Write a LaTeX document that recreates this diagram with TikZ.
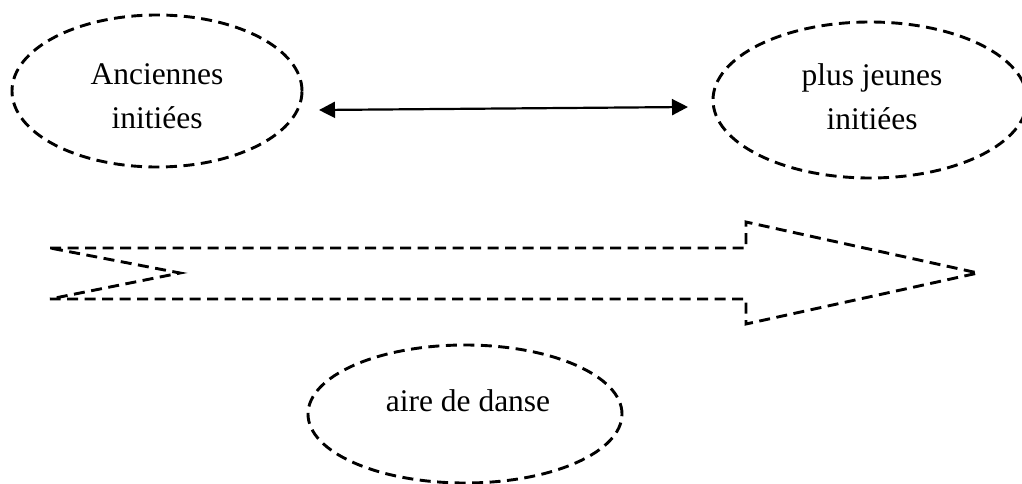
\documentclass[tikz,border=0pt]{standalone}
\usepackage{fontspec}
\setmainfont{Liberation Serif}
\usetikzlibrary{shapes.geometric,arrows.meta}
\begin{document}
\begin{tikzpicture}[x=1pt,y=-1pt,
  dashline/.style={draw=black, line width=2.9pt, dash pattern=on 11pt off 6.5pt},
  oval/.style={ellipse, dashline, inner sep=0pt, outer sep=0pt},
  lbl/.style={inner sep=0pt, align=center, font=\fontsize{31.5pt}{44pt}\selectfont},
  link/.style={line width=2.2pt, {Triangle[length=16pt,width=16pt]}-{Triangle[length=16pt,width=16pt]}}
]
\useasboundingbox (0,0) rectangle (1022,484);

% ellipses
\node[oval, minimum width=290pt, minimum height=152pt] (anc) at (157,91) {};
\node[lbl] (ancT) at (157,96) {Anciennes\\initiées};

\node[oval, minimum width=314pt, minimum height=156pt] (jeu) at (870,100) {};
\node[lbl] (jeuT) at (872,97) {plus jeunes\\initiées};

\node[oval, minimum width=314pt, minimum height=138pt] (aire) at (465,414) {};
\node[lbl] (aireT) at (468,401) {aire de danse};

% double arrow
\coordinate (la) at (319,110);
\coordinate (ra) at (688,107);
\draw[link] (la) -- (ra);

% notched dashed arrow
\coordinate (n1) at (50,248);
\coordinate (n2) at (746,248);
\coordinate (n3) at (746,222);
\coordinate (n4) at (978,273);
\coordinate (n5) at (746,324);
\coordinate (n6) at (746,299);
\coordinate (n7) at (50,299);
\coordinate (n8) at (180,273);
\draw[dashline, line join=miter] (n1) -- (n2) -- (n3) -- (n4) -- (n5) -- (n6) -- (n7) -- (n8) -- cycle;
\end{tikzpicture}
\end{document}
